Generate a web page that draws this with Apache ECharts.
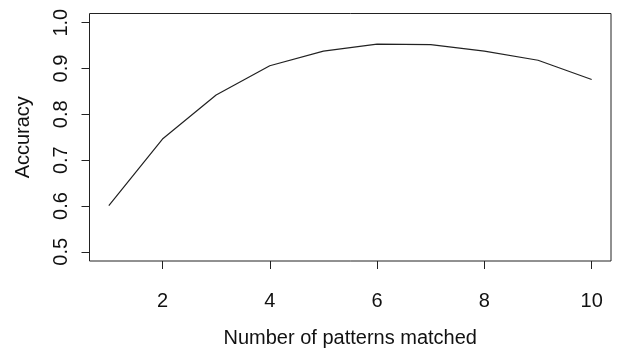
<!DOCTYPE html>
<html lang="en">
<head>
    <meta charset="UTF-8">
    <title>Accuracy vs patterns matched</title>
    <script src="https://cdn.jsdelivr.net/npm/echarts@6/dist/echarts.min.js"></script>
    <style>
        html, body { margin: 0; padding: 0; background: #fff; }
        #main { width: 637px; height: 353px; }
    </style>
</head>
<body>
    <div id="main"></div>
<script>
    // data
    let patterns = [1, 2, 3, 4, 5, 6, 7, 8, 9, 10];
    let accuracy = [0.601, 0.746, 0.842, 0.906, 0.938, 0.953, 0.952, 0.938, 0.918, 0.876];
    let xTicks = [2, 4, 6, 8, 10];
    let yTicks = [0.5, 0.6, 0.7, 0.8, 0.9, 1.0];

    let font = 'Liberation Sans, Arial, Helvetica, sans-serif';
    let chart = echarts.init(document.getElementById('main'));

    let option = {
        animation: false,
        grid: {
            left: 89.5, top: 13.5, right: 26, bottom: 77.5,
            show: true, borderColor: '#222', borderWidth: 1,
            backgroundColor: 'transparent'
        },
        xAxis: {
            type: 'value',
            min: 0.64, max: 10.36,
            splitLine: { show: false },
            axisLine: { show: false },
            axisTick: { show: true, length: 8, customValues: xTicks, lineStyle: { color: '#222' } },
            axisLabel: { customValues: xTicks, fontSize: 20, color: '#111', fontFamily: font, margin: 30 },
            name: 'Number of patterns matched',
            nameLocation: 'middle',
            nameGap: 67,
            nameTextStyle: { fontSize: 20, color: '#111', fontFamily: font }
        },
        yAxis: {
            type: 'value',
            min: 0.48, max: 1.02,
            splitLine: { show: false },
            axisLine: { show: false },
            axisTick: { show: true, length: 8, customValues: yTicks, lineStyle: { color: '#222' } },
            axisLabel: {
                customValues: yTicks, rotate: 90, fontSize: 20, color: '#111', fontFamily: font, margin: 18,
                formatter: function (v) { return v.toFixed(1); }
            },
            name: 'Accuracy',
            nameLocation: 'middle',
            nameGap: 56,
            nameRotate: 90,
            nameTextStyle: { fontSize: 20, color: '#111', fontFamily: font }
        },
        series: [{
            type: 'line',
            data: patterns.map(function (p, i) { return [p, accuracy[i]]; }),
            showSymbol: false,
            lineStyle: { color: '#222', width: 1.2 }
        }]
    };
    chart.setOption(option);
</script>
</body>
</html>
